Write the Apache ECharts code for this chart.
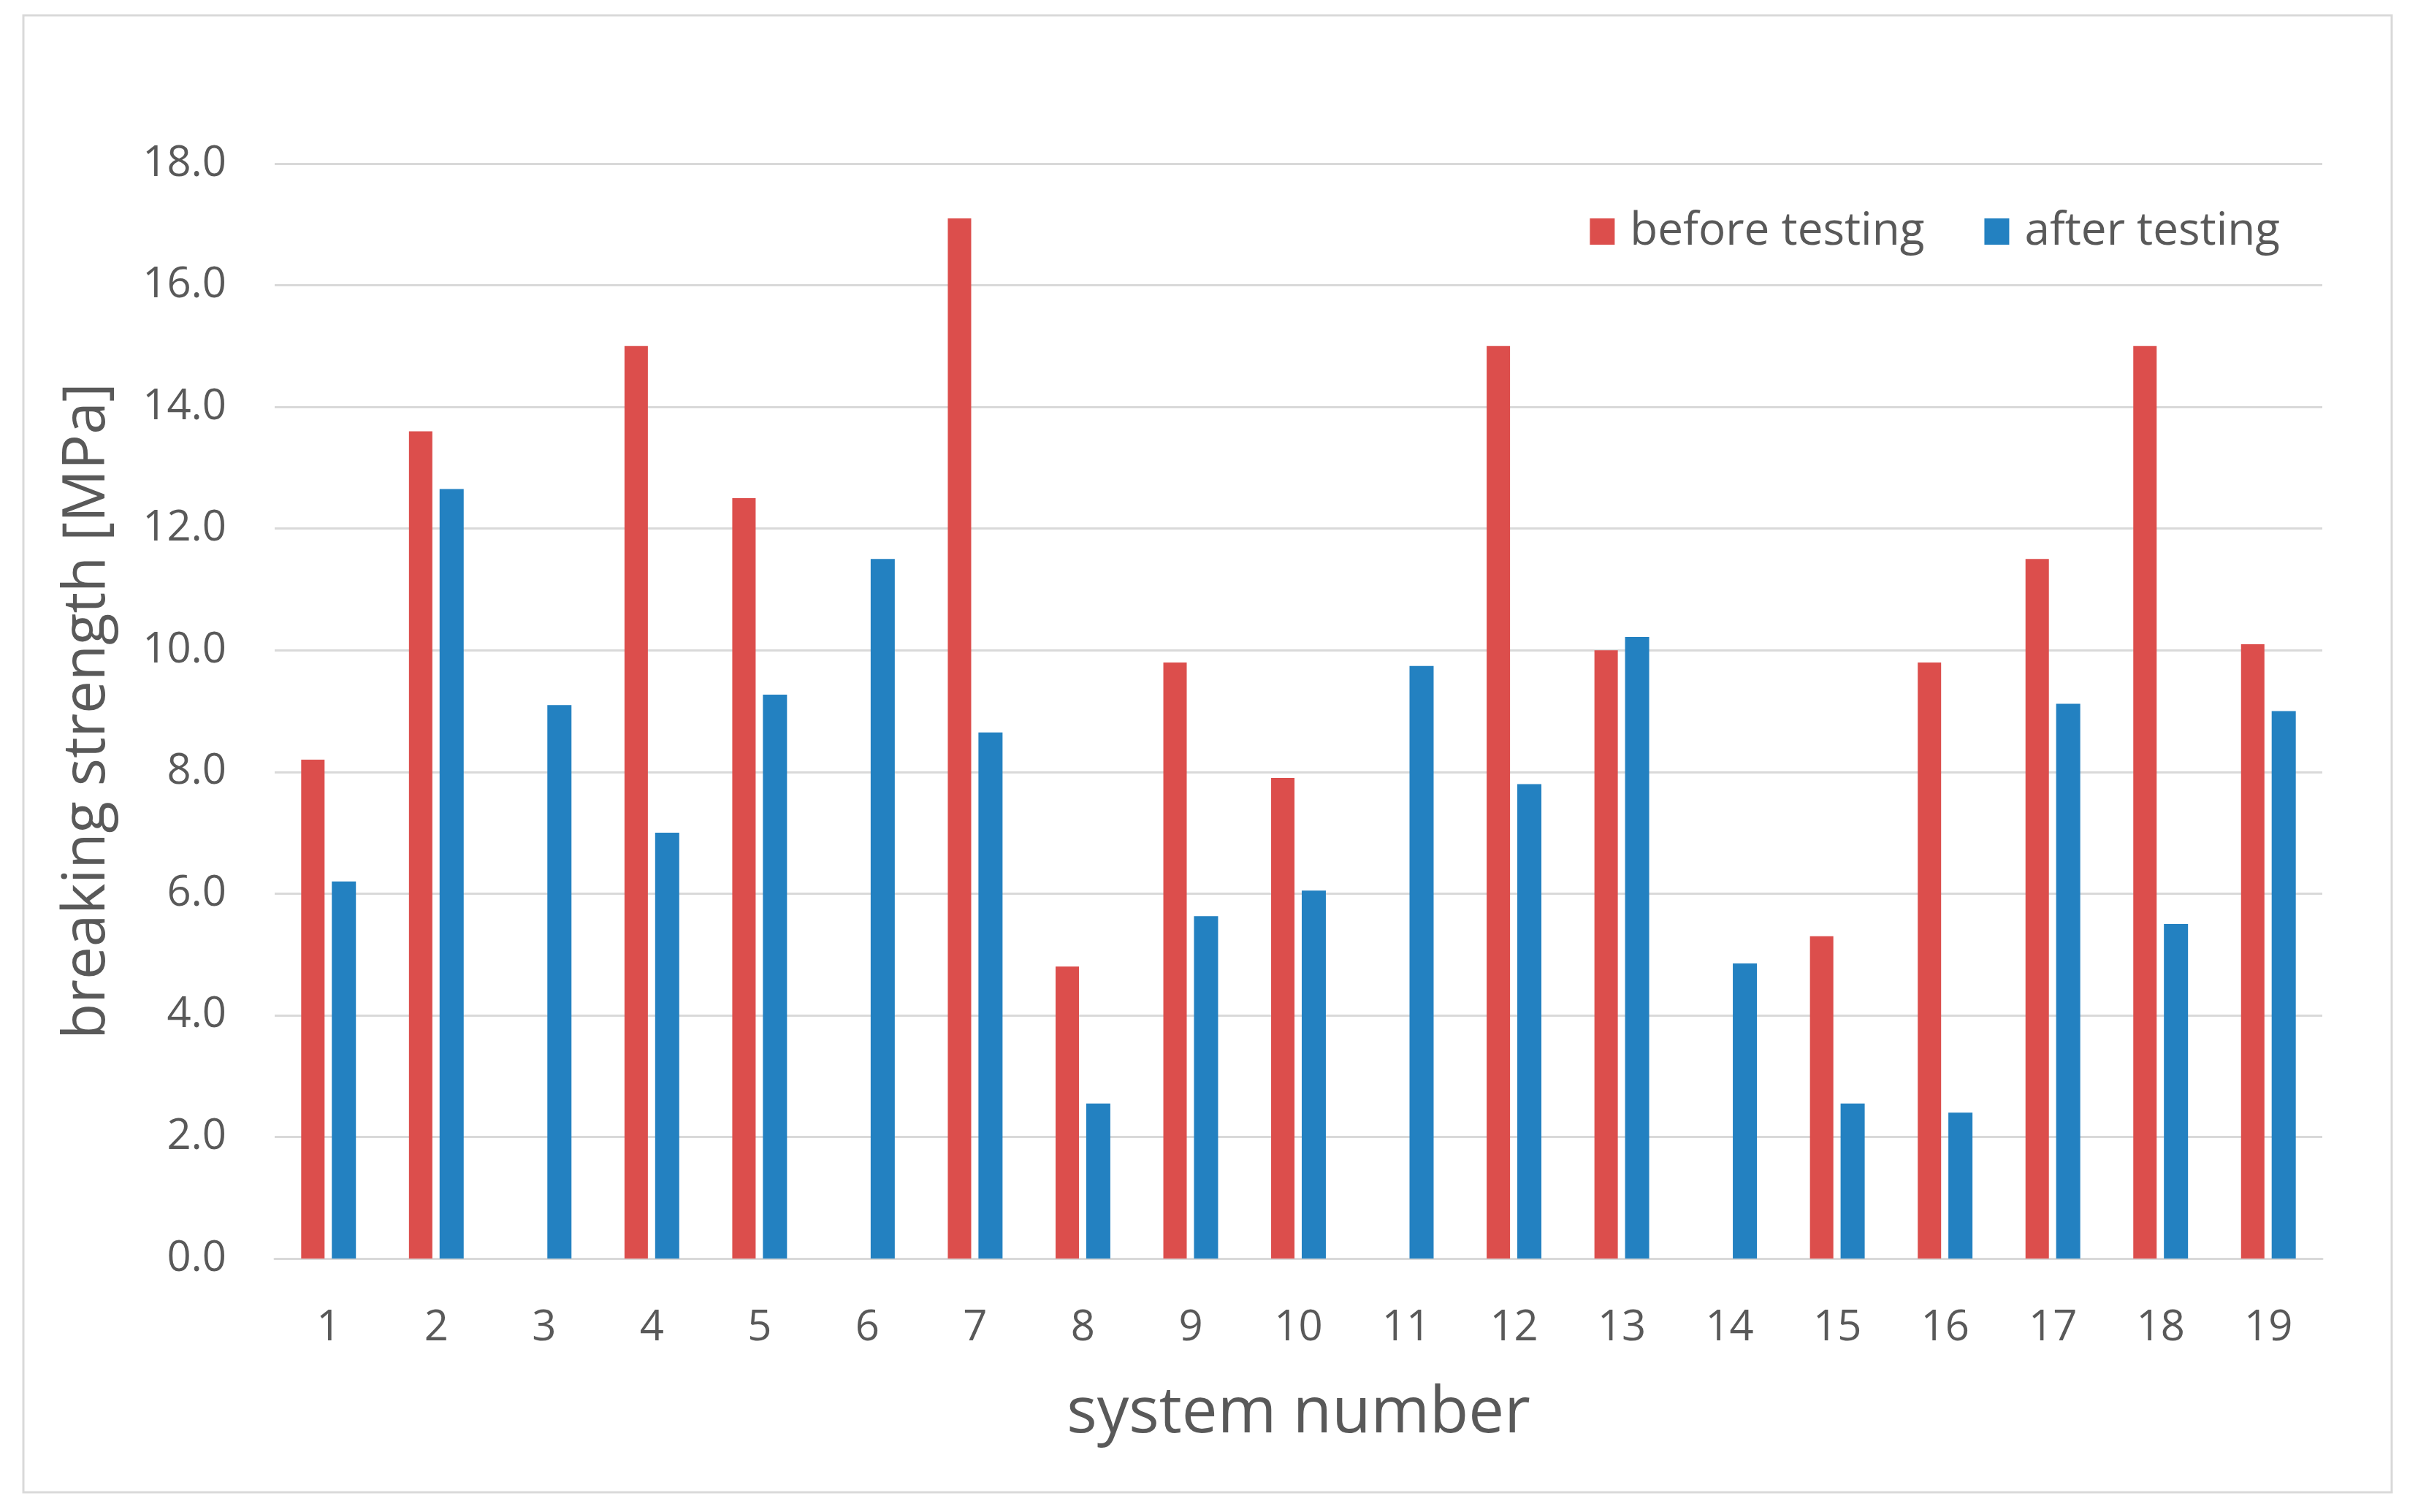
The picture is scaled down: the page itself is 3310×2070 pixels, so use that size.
<!DOCTYPE html>
<html>
<head>
<meta charset="utf-8">
<script src="https://cdn.jsdelivr.net/npm/echarts@6/dist/echarts.min.js"></script>
<style>
html,body{margin:0;padding:0;background:#fff;}
#chart{width:3310px;height:2070px;}
</style>
</head>
<body>
<div id="chart"></div>
<script>
const categories = ['1','2','3','4','5','6','7','8','9','10','11','12','13','14','15','16','17','18','19'];
const beforeTesting = [8.2, 13.6, null, 15.0, 12.5, null, 17.1, 4.8, 9.8, 7.9, null, 15.0, 10.0, null, 5.3, 9.8, 11.5, 15.0, 10.1];
const afterTesting = [6.2, 12.65, 9.1, 7.0, 9.27, 11.5, 8.65, 2.55, 5.63, 6.05, 9.74, 7.8, 10.22, 4.85, 2.55, 2.4, 9.12, 5.5, 9.0];
const yTicks = { min: 0, max: 18, interval: 2 };

const FONT = '"Open Sans", "Noto Sans", sans-serif';
const TXT = '#595959';

const chart = echarts.init(document.getElementById('chart'), null, {renderer: 'canvas'});
chart.setOption({
  backgroundColor: '#ffffff',
  animation: false,
  textStyle: { fontFamily: FONT, color: TXT },
  graphic: [{
    type: 'rect',
    shape: { x: 32, y: 21, width: 3242, height: 2022 },
    style: { fill: 'none', stroke: '#d9d9d9', lineWidth: 3 },
    silent: true
  }],
  legend: {
    right: 184,
    top: 281,
    itemWidth: 34,
    itemHeight: 36,
    itemGap: 82,
    icon: 'rect',
    textStyle: { fontFamily: FONT, fontSize: 62, color: TXT, padding: [0,0,0,16] },
    data: ['before testing', 'after testing']
  },
  grid: { left: 376, right: 131, top: 224, bottom: 347 },
  xAxis: {
    type: 'category',
    data: categories,
    axisTick: { show: false },
    axisLine: { lineStyle: { color: '#d9d9d9', width: 3 } },
    axisLabel: { fontFamily: FONT, fontSize: 58, color: TXT, margin: 66 },
    name: 'system number',
    nameLocation: 'middle',
    nameGap: 170,
    nameTextStyle: { fontFamily: FONT, fontSize: 87, color: TXT }
  },
  yAxis: {
    type: 'value',
    min: yTicks.min, max: yTicks.max, interval: yTicks.interval,
    axisLine: { show: false },
    axisTick: { show: false },
    splitLine: { lineStyle: { color: '#d9d9d9', width: 3 } },
    axisLabel: { fontFamily: FONT, fontSize: 58, color: TXT, margin: 66,
      formatter: v => v.toFixed(1) },
    name: 'breaking strength [MPa]',
    nameLocation: 'middle',
    nameGap: 216,
    nameTextStyle: { fontFamily: FONT, fontSize: 80, color: TXT }
  },
  series: [
    { name: 'before testing', type: 'bar', data: beforeTesting, barWidth: 32, barGap: '31%',
      itemStyle: { color: '#dc4e4c' } },
    { name: 'after testing', type: 'bar', data: afterTesting, barWidth: 33, barGap: '31%',
      itemStyle: { color: '#2381c1' } }
  ]
});
</script>
</body>
</html>
